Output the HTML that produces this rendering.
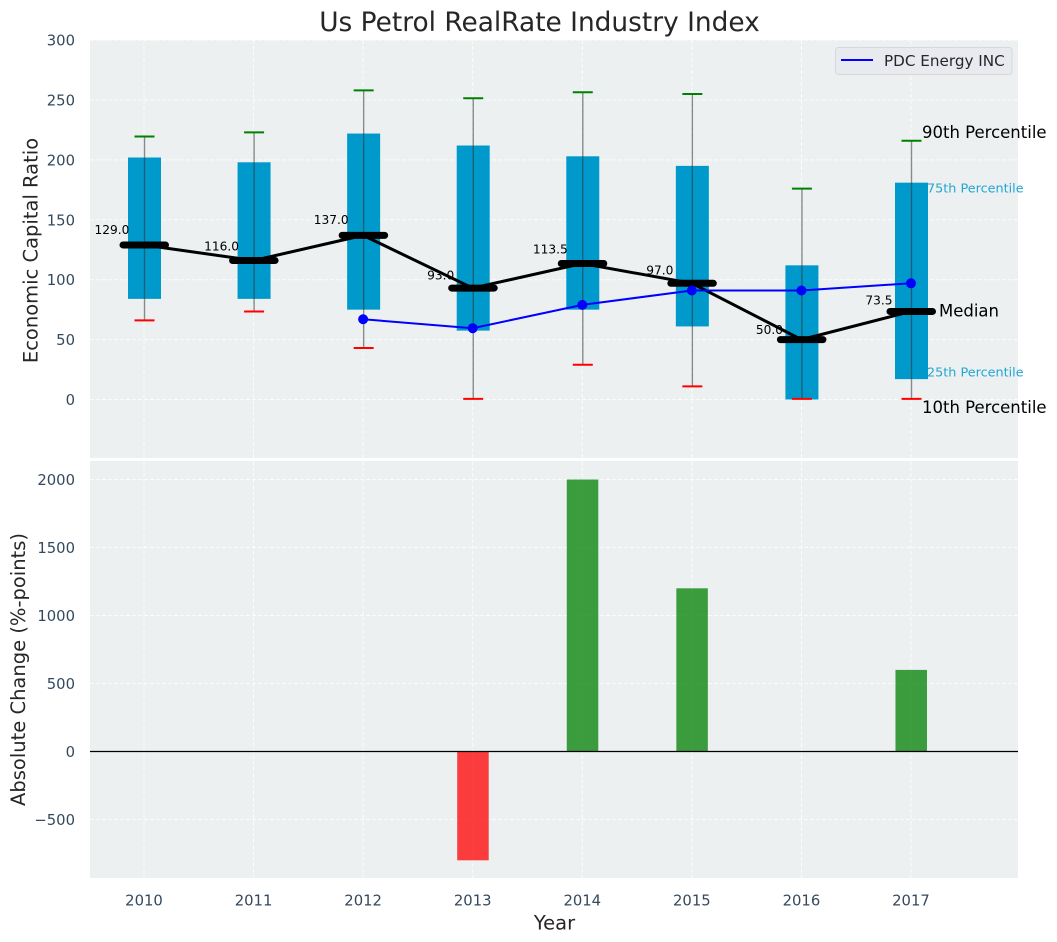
<!DOCTYPE html>
<html>
<head>
<meta charset="utf-8">
<title>Us Petrol RealRate Industry Index</title>
<style>
html,body{margin:0;padding:0;background:#fff;}
svg{display:block;}
text{font-family:"DejaVu Sans","Liberation Sans",sans-serif;}
</style>
</head>
<body>
<svg id="chart" width="1057" height="942" viewBox="0 0 1057 942" xmlns="http://www.w3.org/2000/svg">
  <rect x="90" y="40" width="928" height="418" fill="#ecf0f1"/>
  <rect x="90" y="461" width="928" height="417" fill="#ecf0f1"/>
  <g id="grid"></g>
  <g id="marks"></g>
  <g id="ticks"></g>
  <text x="539.5" y="31" font-size="26.4" fill="#262626" text-anchor="middle">Us Petrol RealRate Industry Index</text>
  <text transform="translate(37.5,250.5) rotate(-90)" font-size="19.5" fill="#262626" text-anchor="middle">Economic Capital Ratio</text>
  <text transform="translate(25,669.5) rotate(-90)" font-size="19.5" fill="#262626" text-anchor="middle">Absolute Change (%-points)</text>
  <text x="554.5" y="929.5" font-size="19.5" fill="#262626" text-anchor="middle">Year</text>
  <g>
    <rect x="835.5" y="47.5" width="176.5" height="27" rx="3" fill="#e9eaef" stroke="#d6d8db" stroke-width="1"/>
    <line x1="841" y1="60" x2="873" y2="60" stroke="#0000ff" stroke-width="2"/>
    <text x="884" y="66" font-size="15.2" fill="#262626">PDC Energy INC</text>
  </g>
</svg>
<script>
const years = [2010, 2011, 2012, 2013, 2014, 2015, 2016, 2017];
const p90 = [219.5, 223, 258, 251.5, 256.5, 255, 176, 216];
const q3 = [202, 198, 222, 212, 203, 195, 112, 181];
const medians = [129, 116, 137, 93, 113.5, 97, 50, 73.5];
const q1 = [84, 84, 75, 57.5, 75, 61, 0, 17];
const p10 = [66, 73.5, 43, 0.5, 29, 11, 0.5, 0.5];
const pdcEnergy = [null, null, 67, 59.5, 79, 91, 91, 97];
const absoluteChange = [0, 0, 0, -800, 2000, 1200, 0, 600];
const topTicks = [0, 50, 100, 150, 200, 250, 300];
const bottomTicks = [-500, 0, 500, 1000, 1500, 2000];

const NS = 'http://www.w3.org/2000/svg';
const grid = document.getElementById('grid');
const marks = document.getElementById('marks');
const ticks = document.getElementById('ticks');

function scaleX(v) { return 144 + (v - 2010) * 109.57; }
function scaleTop(v) { return 399.5 - v * 1.198; }
function scaleBottom(v) { return 751.5 - v * 0.136; }

function make(parent, tag, props, content) {
  const el = document.createElementNS(NS, tag);
  Object.keys(props).forEach(function (k) { el.setAttribute(k, props[k]); });
  if (content !== undefined) el.textContent = content;
  parent.appendChild(el);
  return el;
}

// Gridlines and tick labels
years.forEach(function (yr) {
  const g1 = make(grid, 'line', {x1: scaleX(yr), x2: scaleX(yr), y1: 40, y2: 458, stroke: '#fff', 'stroke-width': 1, 'stroke-dasharray': '4 2', opacity: 0.8});
  
  
  const g2 = make(grid, 'line', {x1: scaleX(yr), x2: scaleX(yr), y1: 461, y2: 878, stroke: '#fff', 'stroke-width': 1, 'stroke-dasharray': '4 2', opacity: 0.8});
  
  
  const t = make(ticks, 'text', {x: scaleX(yr), y: 905.5, 'font-size': 14.8, fill: '#34495e', 'text-anchor': 'middle'}, String(yr));
  
  
});
topTicks.forEach(function (v) {
  const g = make(grid, 'line', {x1: 90, x2: 1018, y1: scaleTop(v), y2: scaleTop(v), stroke: '#fff', 'stroke-width': 1, 'stroke-dasharray': '4 2', opacity: 0.8});
  
  
  const t = make(ticks, 'text', {x: 75, y: scaleTop(v) + 5.5, 'font-size': 14.8, fill: '#34495e', 'text-anchor': 'end'}, String(v));
  
  
});
bottomTicks.forEach(function (v) {
  const g = make(grid, 'line', {x1: 90, x2: 1018, y1: scaleBottom(v), y2: scaleBottom(v), stroke: '#fff', 'stroke-width': 1, 'stroke-dasharray': '4 2', opacity: 0.8});
  
  
  const label = v < 0 ? '\u2212' + Math.abs(v) : String(v);
  const t = make(ticks, 'text', {x: 75, y: scaleBottom(v) + 5.5, 'font-size': 14.8, fill: '#34495e', 'text-anchor': 'end'}, label);
  
  
});

// Boxes, whiskers and caps
years.forEach(function (yr, i) {
  const cx = scaleX(yr);
  const box = make(marks, 'rect', {x: cx - 16, y: scaleTop(q3[i]), width: 33, height: scaleTop(q1[i]) - scaleTop(q3[i]), fill: '#0099cc'});
  
  
  const w = make(marks, 'line', {x1: cx + 0.5, x2: cx + 0.5, y1: scaleTop(p90[i]), y2: scaleTop(p10[i]), stroke: '#333', 'stroke-width': 1.4, opacity: 0.55});
  
  
  const hi = make(marks, 'line', {x1: cx - 9.5, x2: cx + 10.5, y1: scaleTop(p90[i]), y2: scaleTop(p90[i]), stroke: '#008000', 'stroke-width': 2});
  
  
  const lo = make(marks, 'line', {x1: cx - 9.5, x2: cx + 10.5, y1: scaleTop(p10[i]), y2: scaleTop(p10[i]), stroke: '#ff0000', 'stroke-width': 2});
  
  
});

// Median trend line
const medianPoints = years.map(function (yr, i) { return scaleX(yr) + ',' + scaleTop(medians[i]); }).join(' ');
const medianLine = make(marks, 'polyline', {points: medianPoints, fill: 'none', stroke: '#000', 'stroke-width': 3});



// Median bars; value labels rise slightly with the value
years.forEach(function (yr, i) {
  const cx = scaleX(yr);
  const m = make(marks, 'line', {x1: cx - 21, x2: cx + 21.5, y1: scaleTop(medians[i]), y2: scaleTop(medians[i]), stroke: '#000', 'stroke-width': 7, 'stroke-linecap': 'round'});
  
  
  const t = make(marks, 'text', {x: cx - 32, y: scaleTop(medians[i]) - 0.07 * medians[i] - 2, 'font-size': 12.2, fill: '#000', 'text-anchor': 'middle'}, medians[i].toFixed(1));
  
  
});

// PDC Energy series
const pdcPoints = [];
years.forEach(function (yr, i) {
  if (pdcEnergy[i] !== null) pdcPoints.push(scaleX(yr) + ',' + scaleTop(pdcEnergy[i]));
});
const pdcLine = make(marks, 'polyline', {points: pdcPoints.join(' '), fill: 'none', stroke: '#0000ff', 'stroke-width': 2});


years.forEach(function (yr, i) {
  if (pdcEnergy[i] === null) return;
  const p = make(marks, 'circle', {cx: scaleX(yr), cy: scaleTop(pdcEnergy[i]), r: 5, fill: '#0000ff'});
  
  
});

// Percentile annotations beside the last box
const last = years.length - 1;
const lastX = scaleX(years[last]);
const a90 = make(marks, 'text', {x: lastX + 11, y: scaleTop(p90[last]) - 2.5, 'font-size': 16.5, fill: '#000'}, '90th Percentile');


const a75 = make(marks, 'text', {x: lastX + 16, y: scaleTop(q3[last]) + 10, 'font-size': 12.8, fill: '#0099cc', opacity: 0.85}, '75th Percentile');


const aMed = make(marks, 'text', {x: lastX + 28, y: scaleTop(medians[last]) + 5, 'font-size': 16.5, fill: '#000'}, 'Median');


const a25 = make(marks, 'text', {x: lastX + 16, y: scaleTop(q1[last]) - 2.5, 'font-size': 12.8, fill: '#0099cc', opacity: 0.85}, '25th Percentile');


const a10 = make(marks, 'text', {x: lastX + 11, y: scaleTop(p10[last]) + 14, 'font-size': 16.5, fill: '#000'}, '10th Percentile');



// Change bars
years.forEach(function (yr, i) {
  const v = absoluteChange[i];
  if (v === 0) return;
  const top = Math.min(scaleBottom(v), scaleBottom(0));
  const h = Math.abs(scaleBottom(v) - scaleBottom(0));
  const b = make(marks, 'rect', {x: scaleX(yr) - 15.5, y: top, width: 31.5, height: h, fill: v > 0 ? '#008000' : '#ff0000', opacity: 0.75});
  
  
});
const zero = make(marks, 'line', {x1: 90, x2: 1018, y1: scaleBottom(0), y2: scaleBottom(0), stroke: '#000', 'stroke-width': 1.2});


</script>
</body>
</html>
